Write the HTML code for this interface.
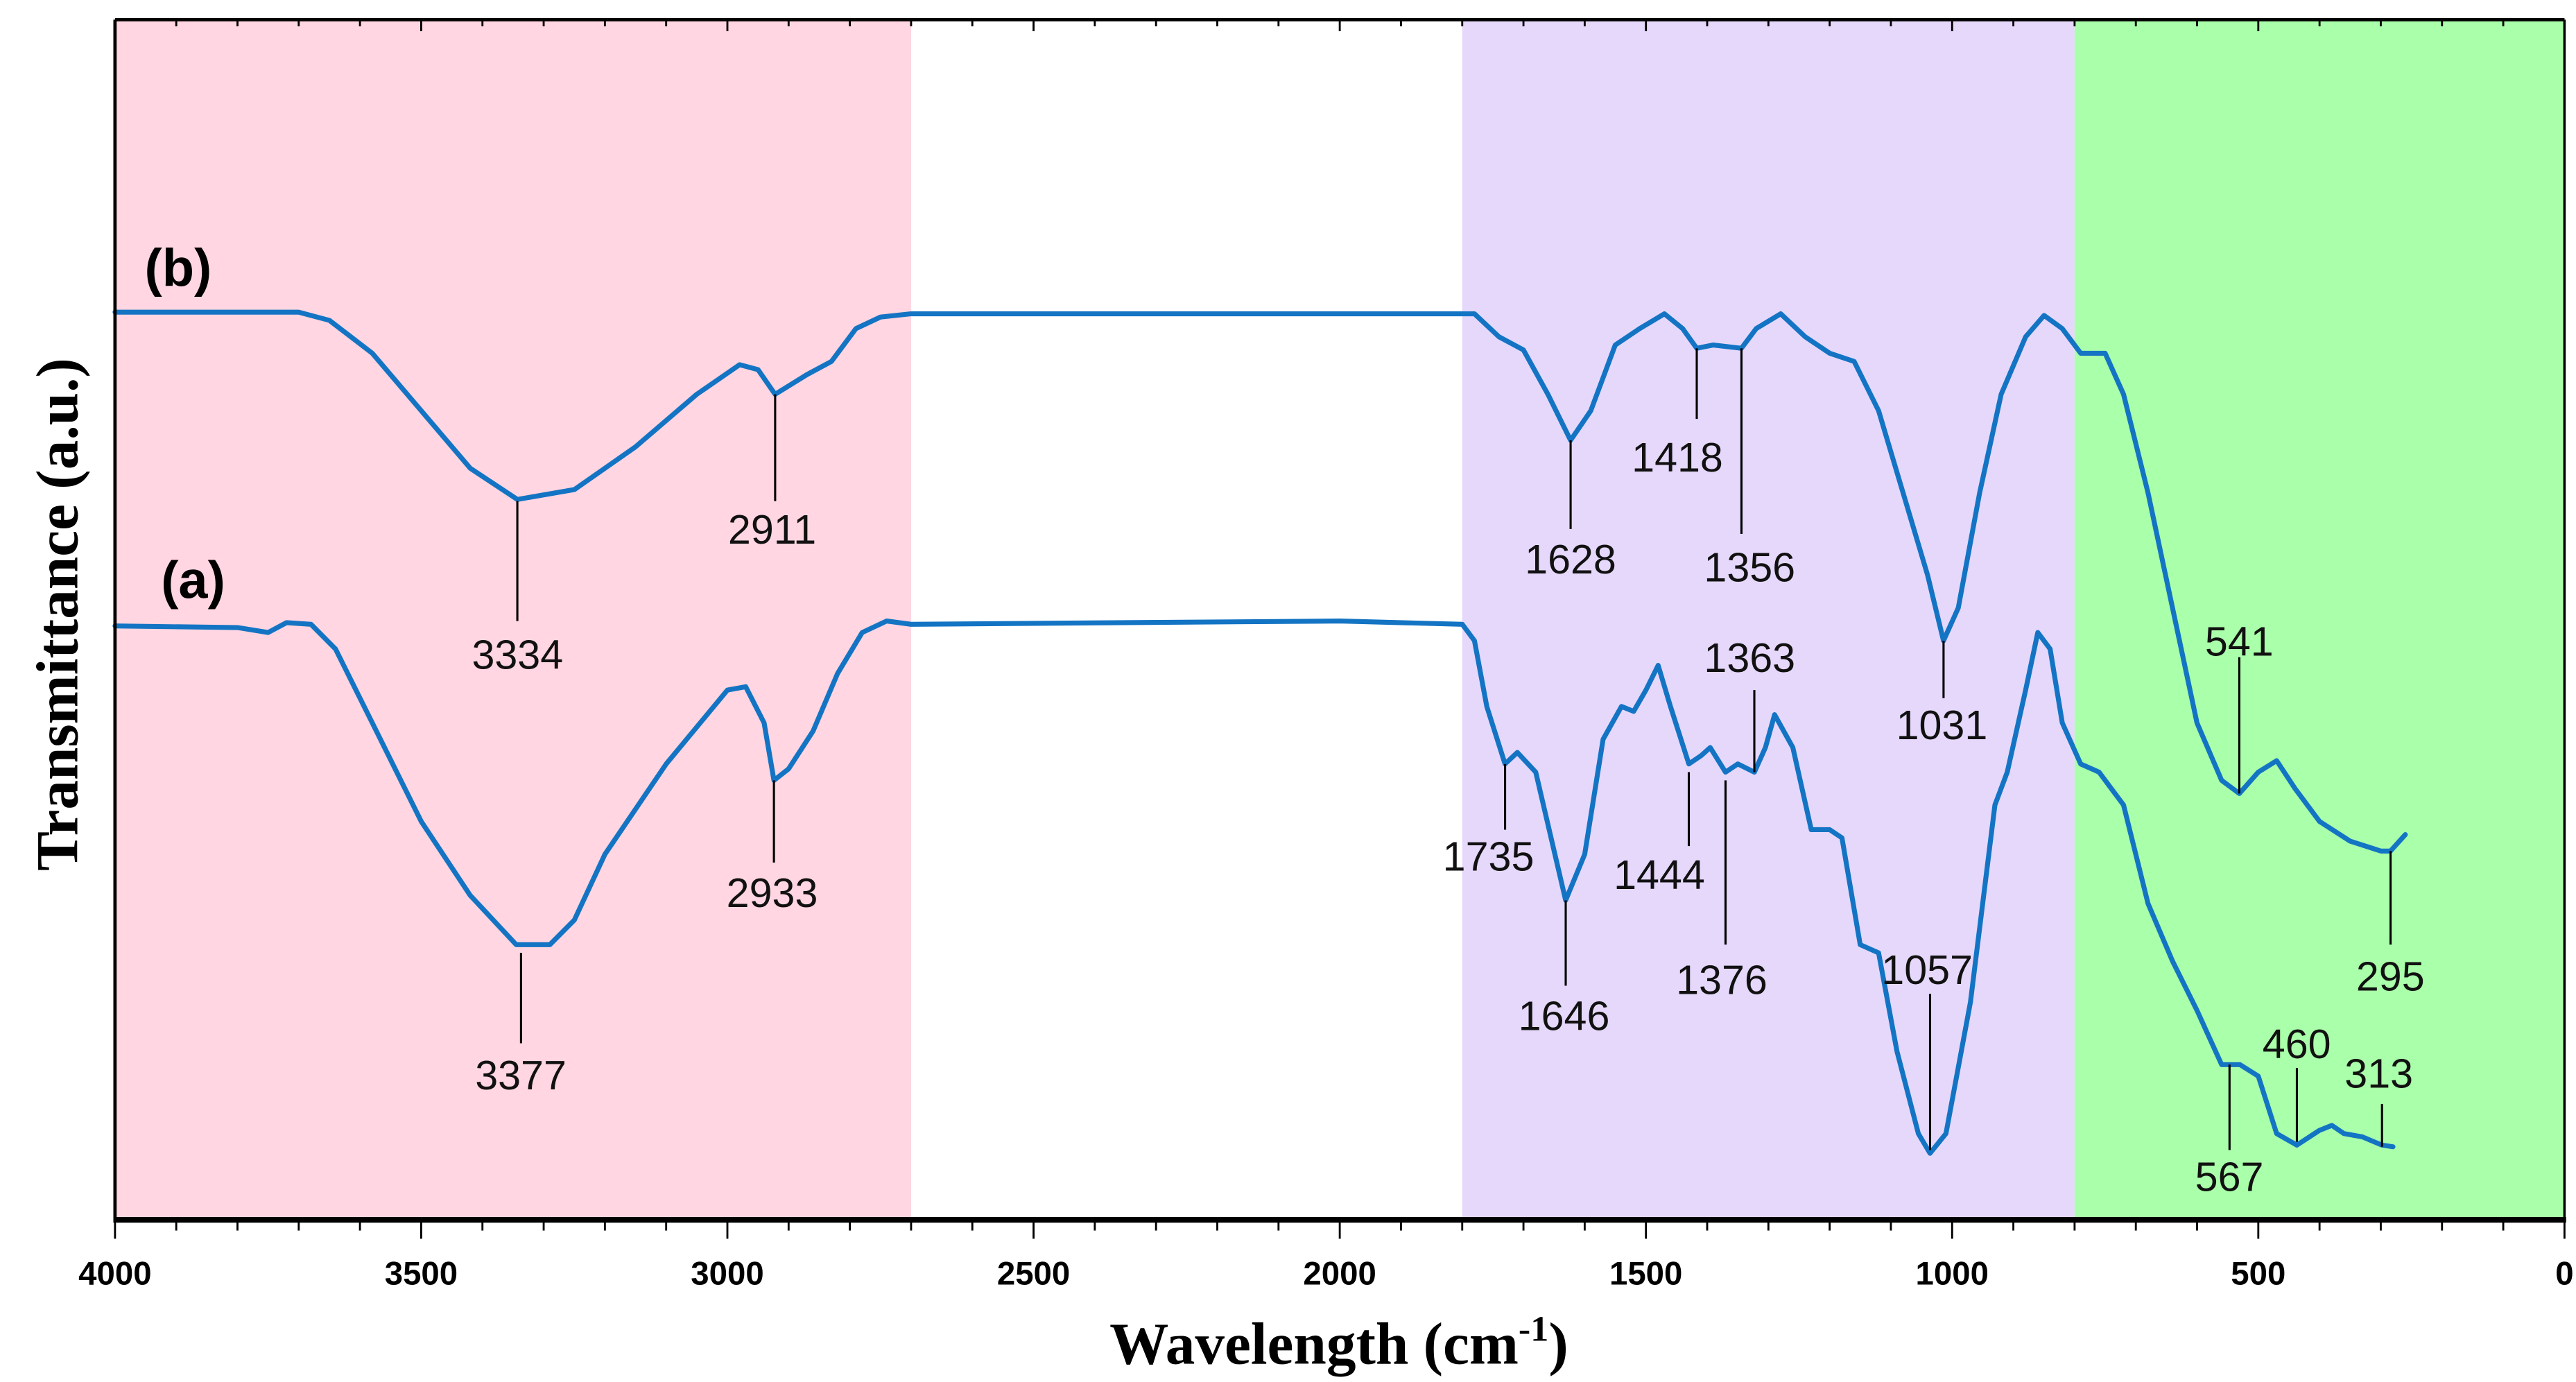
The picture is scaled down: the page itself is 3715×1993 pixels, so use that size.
<!DOCTYPE html>
<html><head><meta charset="utf-8"><style>
html,body{margin:0;padding:0;background:#fff}
svg{display:block}
</style></head><body>
<svg id="chart" xmlns="http://www.w3.org/2000/svg" width="3715" height="1993" viewBox="0 0 1568 841.2">
<g id="bands"></g>
<g id="series"></g>
<g id="annots"></g>
<g id="axes"></g>
<text x="0" y="0" transform="translate(47,374) rotate(-90)" text-anchor="middle" font-family="Liberation Serif, serif" font-weight="bold" font-size="36">Transmittance (a.u.)</text>
<text x="815" y="830" text-anchor="middle" font-family="Liberation Serif, serif" font-weight="bold" font-size="36">Wavelength (cm<tspan dy="-14" font-size="22">-1</tspan><tspan dy="14">)</tspan></text>
<text x="88" y="174" font-family="Liberation Sans, sans-serif" font-weight="bold" font-size="32">(b)</text>
<text x="98" y="364" font-family="Liberation Sans, sans-serif" font-weight="bold" font-size="32">(a)</text>
</svg>
<script>
const xTicks=[4000,3500,3000,2500,2000,1500,1000,500,0];
const bandStarts=[4000,1800,800];
const bandEnds=[2700,800,0];
const bandColors=['#ffd6e1','#e6d8fb','#aaffaa'];
const waveB=[4000,3700,3650,3580,3500,3420,3343,3250,3150,3050,2980,2950,2922,2870,2830,2790,2750,2700,2000,1780,1740,1700,1660,1623,1590,1550,1510,1470,1440,1417,1390,1344,1320,1280,1240,1200,1160,1120,1080,1040,1014,990,955,920,880,850,820,790,770,750,720,680,640,600,560,531,500,470,440,400,350,300,284,260];
const transB=[560,560,555,535,500,465,446,452,478,510,528,525,510,522,530,550,557,559,559,559,545,537,510,482,500,540,550,559,550,538,540,538,550,559,545,535,530,500,450,400,360,380,450,510,545,558,550,535,535,535,510,450,380,310,275,267,280,287,270,250,238,232,232,242];
const waveA=[4000,3800,3750,3720,3680,3640,3580,3500,3420,3345,3290,3250,3200,3100,3000,2970,2940,2924,2900,2860,2820,2780,2740,2700,2000,1800,1780,1760,1730,1710,1680,1631,1600,1570,1540,1520,1500,1480,1460,1430,1410,1395,1370,1350,1323,1305,1290,1260,1230,1200,1180,1150,1120,1090,1055,1036,1010,970,930,910,880,860,840,820,790,760,720,680,640,600,560,530,500,470,437,400,380,360,330,298,280];
const transA=[369,368,365,371,370,355,310,250,205,175,175,190,230,285,330,332,310,275,282,305,340,365,372,370,372,370,360,320,285,292,280,202,230,300,320,317,330,345,320,285,290,295,280,285,280,295,315,295,245,245,240,175,170,110,60,48,60,140,260,280,330,365,355,310,285,280,260,200,165,135,102,102,95,60,53,62,65,60,58,53,52];
const annWave=[3343,2922,1623,1417,1344,1014,531,284,3337,2924,1730,1631,1430,1370,1323,1036,547,437,298];
const annText=['3334','2911','1628','1418','1356','1031','541','295','3377','2933','1735','1646','1444','1376','1363','1057','567','460','313'];
const annY1=[305,240,268,212,212,390,400,518,580,475,465,548,470,475,420,605,648,650,672];
const annY2=[378,305,322,255,325,425,483,575,635,525,505,600,515,575,470,700,700,695,698];
const annLY=[407,331,349,287,354,450,399,603,663,552,530,627,541,605,409,599,725,644,662];
const annLX=[315,470,956,1021,1065,1182,1363,1455,317,470,906,952,1010,1048,1065,1173,1357,1398,1448];
const NS='http://www.w3.org/2000/svg';
const L=70,R=1561,T=12,B=741;
function xs(w){return L+(4000-w)/4000*(R-L);}
function ys(t){return 750-t;}
function mk(tag,attrs,parent){const e=document.createElementNS(NS,tag);for(const k in attrs)e.setAttribute(k,attrs[k]);parent.appendChild(e);return e;}
const bands=document.getElementById('bands');
for(let i=0;i<bandStarts.length;i++){
 const r=mk('rect',{x:xs(bandStarts[i]),y:T,width:xs(bandEnds[i])-xs(bandStarts[i]),height:B-T,fill:bandColors[i]},bands);
 
 
}
const series=document.getElementById('series');
function line(w,t,name){
 let d='';for(let i=0;i<w.length;i++)d+=(i?'L':'M')+xs(w[i]).toFixed(1)+' '+ys(t[i]).toFixed(1);
 const p=mk('path',{d:d,fill:'none',stroke:'#1474c4','stroke-width':3,'stroke-linejoin':'round','stroke-linecap':'round'},series);
 
 
}
line(waveB,transB,'spectrum-b');
line(waveA,transA,'spectrum-a');
const an=document.getElementById('annots');
for(let i=0;i<annWave.length;i++){
 const x=xs(annWave[i]);
 const l=mk('line',{x1:x,x2:x,y1:annY1[i],y2:annY2[i],stroke:'#000','stroke-width':1.3},an);
 
 
 const t=mk('text',{x:annLX[i],y:annLY[i],'text-anchor':'middle','font-family':'Liberation Sans, sans-serif','font-size':25,fill:'#111'},an);
 t.textContent=annText[i];
 
 
}
const ax=document.getElementById('axes');
mk('line',{x1:L,x2:R,y1:T,y2:T,stroke:'#000','stroke-width':2},ax);
mk('line',{x1:L,x2:L,y1:T,y2:B,stroke:'#000','stroke-width':2},ax);
mk('line',{x1:R,x2:R,y1:T,y2:B,stroke:'#000','stroke-width':1.5},ax);
const xl=mk('line',{x1:L-1,x2:R+1,y1:B+1.5,y2:B+1.5,stroke:'#000','stroke-width':3.5},ax);


for(let w=4000;w>=0;w-=100){
 const x=xs(w),maj=w%500===0;
 mk('line',{x1:x,x2:x,y1:B+3,y2:B+(maj?13:8),stroke:'#000','stroke-width':1.2},ax);
 mk('line',{x1:x,x2:x,y1:T,y2:T+(maj?7:4),stroke:'#000','stroke-width':1.2},ax);
}
for(let i=0;i<xTicks.length;i++){
 const t=mk('text',{x:xs(xTicks[i]),y:782,'text-anchor':'middle','font-family':'Liberation Sans, sans-serif','font-weight':'bold','font-size':20},ax);
 t.textContent=xTicks[i];
 
 
}
</script>
</body></html>
